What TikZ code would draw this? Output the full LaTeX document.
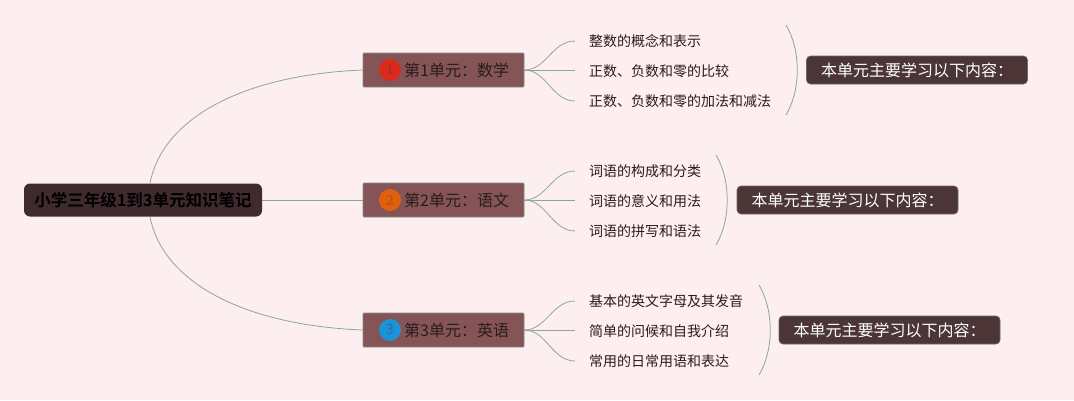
\documentclass[tikz,border=0pt]{standalone}
\usepackage{fontspec}
\setmainfont{Noto Sans CJK SC}
\newfontfamily\cjkb{Noto Sans CJK SC Bold}
\definecolor{bgc}{HTML}{FDEFEF}
\definecolor{linec}{HTML}{8AA899}
\definecolor{unitfill}{HTML}{855456}
\definecolor{unitdraw}{HTML}{7E8E86}
\definecolor{rootfill}{HTML}{3F2A2E}
\definecolor{sumfill}{HTML}{4B3537}
\definecolor{txtc}{HTML}{2A1C1C}
\definecolor{cred}{HTML}{DA2A1C}
\definecolor{credt}{HTML}{B0281C}
\definecolor{corg}{HTML}{E0600E}
\definecolor{corgt}{HTML}{B85018}
\definecolor{cblu}{HTML}{1E92D6}
\definecolor{cblut}{HTML}{2A6EA0}
\begin{document}
\begin{tikzpicture}[x=1pt,y=-1pt,
  conn/.style={draw=linec,line width=0.8pt},
  rootbox/.style={fill=rootfill,rounded corners=6pt,minimum width=238pt,minimum height=33pt,inner sep=0pt,font=\cjkb\fontsize{16.5}{18}\selectfont,text=black},
  unitbox/.style={fill=unitfill,draw=unitdraw,line width=0.8pt,minimum width=161pt,minimum height=34pt,inner sep=0pt,rounded corners=1pt},
  unittext/.style={font=\fontsize{16}{18}\selectfont,text=txtc,inner sep=0pt,anchor=west},
  numc/.style={circle,minimum size=22pt,inner sep=0pt,font=\fontsize{14}{15}\selectfont},
  subitem/.style={font=\fontsize{14}{16}\selectfont,text=txtc,anchor=west,inner sep=2pt},
  sumbox/.style={fill=sumfill,draw=unitdraw!60!sumfill,line width=0.6pt,rounded corners=4pt,minimum width=221pt,minimum height=28pt,inner sep=0pt,text=white,font=\fontsize{16}{18}\selectfont}]
\useasboundingbox (0,0) rectangle (1074,400);
\fill[bgc] (0,0) rectangle (1074,400);

% root
\node[rootbox] (root) at (143,200) {小学三年级1到3单元知识笔记};

% units
\node[unitbox] (u1) at (443.5,70) {};
\node[unitbox] (u2) at (443.5,200) {};
\node[unitbox] (u3) at (443.5,330) {};
\node[numc,fill=cred,text=credt] (n1) at (390,70) {1};
\node[numc,fill=corg,text=corgt] (n2) at (390,200) {2};
\node[numc,fill=cblu,text=cblut] (n3) at (390,330) {3};
\node[unittext] (t1) at (404,70) {第1单元：数学};
\node[unittext] (t2) at (404,200) {第2单元：语文};
\node[unittext] (t3) at (404,330) {第3单元：英语};

% root connectors
\draw[conn] ([xshift=7pt]root.north) .. controls (162,120) and (240,75) .. (u1.west);
\draw[conn] (root.east) -- (u2.west);
\draw[conn] ([xshift=7pt]root.south) .. controls (162,280) and (240,325) .. (u3.west);

% sub items
\node[subitem] (s11) at (587,41) {整数的概念和表示};
\node[subitem] (s12) at (587,71) {正数、负数和零的比较};
\node[subitem] (s13) at (587,101) {正数、负数和零的加法和减法};
\node[subitem] (s21) at (587,171) {词语的构成和分类};
\node[subitem] (s22) at (587,201) {词语的意义和用法};
\node[subitem] (s23) at (587,231) {词语的拼写和语法};
\node[subitem] (s31) at (587,301) {基本的英文字母及其发音};
\node[subitem] (s32) at (587,331) {简单的问候和自我介绍};
\node[subitem] (s33) at (587,361) {常用的日常用语和表达};

\foreach \u/\a/\b/\c in {u1/s11/s12/s13,u2/s21/s22/s23,u3/s31/s32/s33}{
  \draw[conn] (\u.east) .. controls +(22,0) and ([xshift=-35pt]\a.west) .. ([xshift=-12pt]\a.west);
  \draw[conn] (\u.east) -- ([xshift=-12pt]\b.west |- \u.east);
  \draw[conn] (\u.east) .. controls +(22,0) and ([xshift=-35pt]\c.west) .. ([xshift=-12pt]\c.west);
}

% brackets
\coordinate (b1t) at (786,25);  \coordinate (b1b) at (786,115);
\coordinate (b2t) at (716,155); \coordinate (b2b) at (716,245);
\coordinate (b3t) at (759,285); \coordinate (b3b) at (759,375);
\draw[conn] (b1t) .. controls (801,50) and (801,90) .. (b1b);
\draw[conn] (b2t) .. controls (731,180) and (731,220) .. (b2b);
\draw[conn] (b3t) .. controls (774,310) and (774,350) .. (b3b);

% summaries
\node[sumbox] (m1) at (917,70) {本单元主要学习以下内容：};
\node[sumbox] (m2) at (847.5,200) {本单元主要学习以下内容：};
\node[sumbox] (m3) at (889.5,330) {本单元主要学习以下内容：};
\end{tikzpicture}
\end{document}
